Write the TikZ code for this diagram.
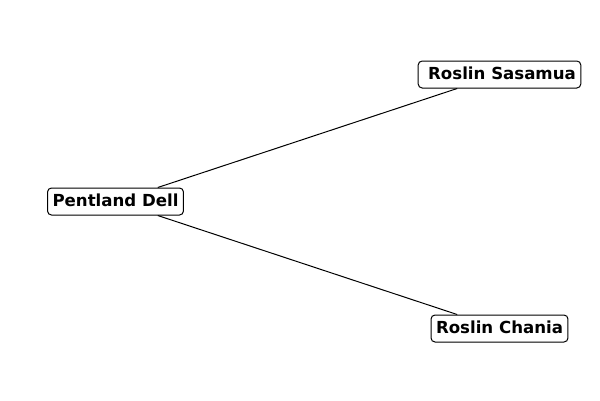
\documentclass[tikz,border=0pt]{standalone}
\usepackage{fontspec}
\setmainfont{DejaVu Sans}
\begin{document}
\begin{tikzpicture}[x=1pt,y=-1pt,
  nodebox/.style={draw=black, fill=white, rounded corners=4pt, line width=1pt,
    inner xsep=5pt, inner ysep=5.5pt, text height=12.5pt, text depth=3.5pt,
    font=\fontsize{16.6}{19}\selectfont\bfseries},
  link/.style={draw=black, line width=1pt}]
\useasboundingbox (0,0) rectangle (600,400);
\node[nodebox] (pd) at (115.5,201.5) {Pentland Dell};
\node[nodebox] (rs) at (499.5,74.5) {\hspace*{5pt}Roslin Sasamua};
\node[nodebox] (rc) at (499.5,328.5) {Roslin Chania};
\draw[link] (pd) -- (rs);
\draw[link] (pd) -- (rc);
\end{tikzpicture}
\end{document}
